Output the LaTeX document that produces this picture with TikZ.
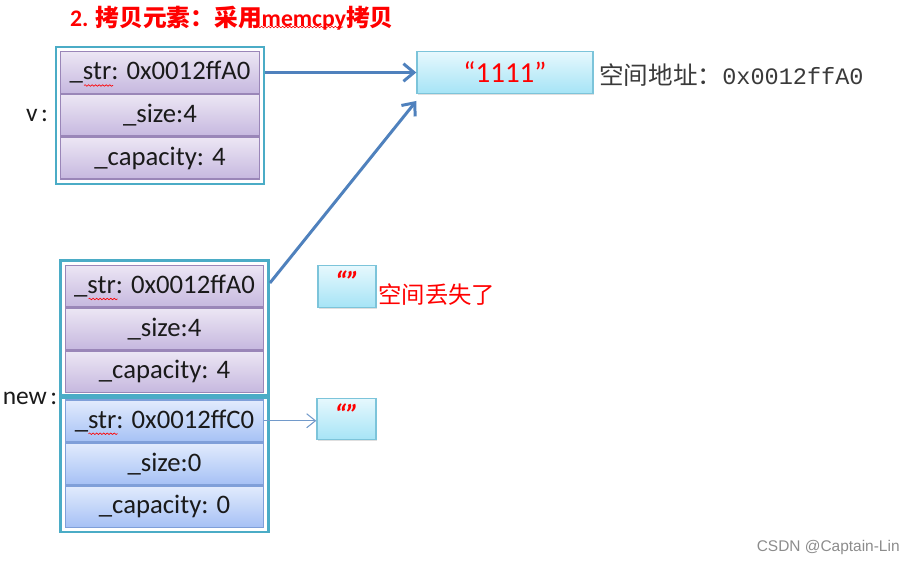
\documentclass[tikz,border=0pt]{standalone}
\usepackage{fontspec}
\setmainfont{Carlito}
\newfontfamily\cjk{Noto Sans CJK SC}
\newfontfamily\monofont{Liberation Mono}
\newfontfamily\markfont{Liberation Sans}
\usetikzlibrary{arrows.meta, positioning, calc, fit, shadows, decorations.pathmorphing}
\definecolor{frameteal}{HTML}{4BACC6}
\definecolor{purpleline}{HTML}{9A86B8}
\definecolor{purpletop}{HTML}{ECE6F4}
\definecolor{purplebot}{HTML}{C6B8DF}
\definecolor{blueline}{HTML}{7F9FD9}
\definecolor{bluetop}{HTML}{E2EBFD}
\definecolor{bluebot}{HTML}{A6C1F5}
\definecolor{strline}{HTML}{7CC4DA}
\definecolor{strtop}{HTML}{E6F8FD}
\definecolor{strbot}{HTML}{A6E4F6}
\definecolor{ptrblue}{HTML}{4F81BD}
\definecolor{inkdark}{HTML}{1A1A1A}
\definecolor{addrgray}{HTML}{3A3A3A}
\definecolor{alertred}{HTML}{FF0000}

\tikzset{
  cell/.style={draw, line width=0.8pt, minimum width=3.97cm, minimum height=0.83cm,
    inner sep=0pt, text=inkdark, font=\fontsize{15.2}{17}\selectfont},
  purplecell/.style={cell, draw=purpleline, top color=purpletop, bottom color=purplebot},
  bluecell/.style={cell, draw=blueline, top color=bluetop, bottom color=bluebot},
  frame/.style={draw=frameteal, line width=1.4pt, inner sep=0.085cm},
  strbox/.style={draw=strline, line width=0.8pt, top color=strtop, bottom color=strbot,
    minimum height=0.83cm, inner sep=0pt, text=alertred,
    drop shadow={opacity=0.25, shadow xshift=0.8pt, shadow yshift=-0.8pt}},
  ptr/.style={-{Straight Barb[length=6pt, width=10pt]}, line width=1.7pt, draw=ptrblue},
  thinptr/.style={-{Straight Barb[length=5pt, width=8pt]}, line width=0.6pt, draw=ptrblue!80},
  spell/.style={draw=alertred, line width=0.35pt,
    decorate, decoration={snake, amplitude=0.45pt, segment length=2pt}}
}

\begin{document}
\begin{tikzpicture}[x=0.02cm, y=-0.02cm]

\useasboundingbox (0,0) rectangle (916,564);

% Title
\node[anchor=west, text=alertred, font=\fontsize{13.5}{16}\selectfont\bfseries] (title) at (64,18)
  {2. {\cjk 拷贝元素：采用}memcpy{\cjk 拷贝}};

% v
\node[purplecell] (vstr) at (160,72.5) {\_str: 0x0012ffA0};
\node[purplecell, below=0pt of vstr] (vsize) {\_size:4};
\node[purplecell, below=0pt of vsize] (vcap) {\_capacity: 4};
\node[frame, fit=(vstr)(vcap)] (vframe) {};
\node[text=inkdark, font=\fontsize{14.5}{16}\selectfont] (vlabel) at (37,116) {v\hspace{2pt}:};

% new (copied by memcpy)
\node[purplecell] (nstr) at (164.5,286) {\_str: 0x0012ffA0};
\node[purplecell, below=0pt of nstr] (nsize) {\_size:4};
\node[purplecell, below=0pt of nsize] (ncap) {\_capacity: 4};
\node[frame, fit=(nstr)(ncap)] (nframe) {};

\node[bluecell] (bstr) at (164.5,420.75) {\_str: 0x0012ffC0};
\node[bluecell, below=0pt of bstr] (bsize) {\_size:0};
\node[bluecell, below=0pt of bsize] (bcap) {\_capacity: 0};
\node[frame, fit=(bstr)(bcap)] (bframe) {};
\node[text=inkdark, font=\fontsize{14.5}{16}\selectfont] (nlabel) at (30,398) {new\hspace{2pt}:};

% spell-check marks
\draw[spell] ($(vstr.west)+(24,13)$) -- ++(29,0);
\draw[spell] ($(nstr.west)+(24,13)$) -- ++(29,0);
\draw[spell] ($(bstr.west)+(24,13)$) -- ++(29,0);
\draw[spell] ($(title.west)+(193,9)$) -- ++(86,0);

% strings on the heap
\node[strbox, minimum width=3.52cm, font=\fontsize{16.5}{18}\selectfont] (s1) at (505,72.5) {“1111”};
\node[strbox, minimum width=1.16cm, font=\fontsize{16}{18}\selectfont\bfseries\itshape] (s2) at (347,286.5) {\raisebox{6pt}{“”}};
\node[strbox, minimum width=1.18cm, font=\fontsize{16}{18}\selectfont\bfseries\itshape] (s3) at (346.5,419) {\raisebox{6pt}{“”}};

\node[anchor=west, text=addrgray, inner sep=0pt] (addr) at (599,75)
  {{\cjk\fontsize{14}{16}\selectfont 空间地址：}{\monofont\fontsize{13.4}{15}\selectfont 0x0012ffA0}};
\node[anchor=west, text=alertred, inner sep=0pt, font=\cjk\fontsize{13.3}{16}\selectfont] (lost) at (378,295) {空间丢失了};

% pointers
\draw[ptr] (vstr -| vframe.east) -- (s1.west);
\draw[ptr] ($(nstr -| nframe.east)+(0,-3)$) -- ($(s1.south west)+(0,7)$);
\draw[thinptr] (bstr.east) -- (bstr.east -| s3.west);

% watermark
\node[anchor=east, inner sep=0pt, text=black!45, font=\markfont\fontsize{8.8}{10}\selectfont] (mark) at (900,547) {CSDN @Captain-Lin};

\end{tikzpicture}
\end{document}
